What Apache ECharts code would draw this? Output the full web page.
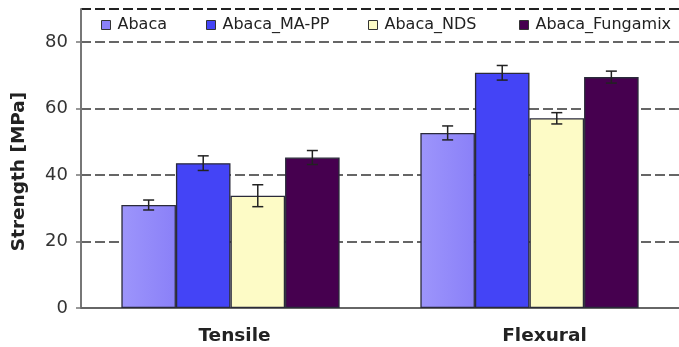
<!DOCTYPE html>
<html>
<head>
<meta charset="utf-8">
<script src="https://cdn.jsdelivr.net/npm/echarts@6/dist/echarts.min.js"></script>
<style>
  html, body { margin: 0; padding: 0; background: #fff; }
  #main { width: 679px; height: 347px; }
</style>
</head>
<body>
<div id="main"></div>
<script>
// data
const categories = ["Tensile", "Flexural"];
const seriesNames = ["Abaca", "Abaca_MA-PP", "Abaca_NDS", "Abaca_Fungamix"];
const abaca = [31.0, 52.7];
const abacaMaPp = [43.6, 70.8];
const abacaNds = [33.8, 57.1];
const abacaFungamix = [45.3, 69.5];
const abacaErr = [1.5, 2.1];
const abacaMaPpErr = [2.2, 2.2];
const abacaNdsErr = [3.3, 1.7];
const abacaFungamixErr = [2.1, 1.8];
const yTicks = [0, 20, 40, 60, 80];

const means = [abaca, abacaMaPp, abacaNds, abacaFungamix];
const errs = [abacaErr, abacaMaPpErr, abacaNdsErr, abacaFungamixErr];
const colors = [
  { type: "linear", x: 0, y: 0, x2: 1, y2: 0,
    colorStops: [{ offset: 0, color: "#9d95fb" }, { offset: 1, color: "#8a80f8" }] },
  "#4444f6",
  "#fdfbc6",
  "#46004f"
];
const legendColors = ["#8b80f9", "#4444f6", "#fdfbc6", "#46004f"];
const legendLeft = [101, 206, 368, 519];
const catGap = 0.27;
const font = "DejaVu Sans";

let chart = echarts.init(document.getElementById("main"));

const barSeries = seriesNames.map((name, i) => {
  return {
    name: name,
    type: "bar",
    data: means[i],
    barGap: "0%",
    barCategoryGap: catGap * 100 + "%",
    itemStyle: { color: colors[i], borderColor: "#2a2a3a", borderWidth: 1.3 },
    z: 2
  };
});

const errSeries = seriesNames.map((name, i) => {
  return {
    name: name + "_err",
    type: "custom",
    z: 5,
    data: categories.map((c, k) => [k, means[i][k] - errs[i][k], means[i][k] + errs[i][k]]),
    renderItem: function (params, api) {
      const k = api.value(0);
      const lo = api.coord([k, api.value(1)]);
      const hi = api.coord([k, api.value(2)]);
      const band = api.size([1, 0])[0];
      const bw = band * (1 - catGap) / 4;
      const cx = lo[0] + (i - 1.5) * bw;
      const cap = 5.5;
      const style = { stroke: "#222", lineWidth: 1.5 };
      return {
        type: "group",
        children: [
          { type: "line", shape: { x1: cx, y1: lo[1], x2: cx, y2: hi[1] }, style: style },
          { type: "line", shape: { x1: cx - cap, y1: lo[1], x2: cx + cap, y2: lo[1] }, style: style },
          { type: "line", shape: { x1: cx - cap, y1: hi[1], x2: cx + cap, y2: hi[1] }, style: style }
        ]
      };
    }
  };
});

// one legend per item so each sits where it does in the picture
const legends = seriesNames.map((n, i) => ({
  data: [{ name: n, itemStyle: { color: legendColors[i], borderColor: "#333", borderWidth: 1 } }],
  top: 17,
  left: legendLeft[i],
  padding: 0,
  icon: "rect",
  itemWidth: 9,
  itemHeight: 9,
  textStyle: { fontSize: 16, color: "#222", fontFamily: font, padding: [0, 0, 0, 2] }
}));

chart.setOption({
  animation: false,
  textStyle: { fontFamily: font },
  grid: { left: 81, top: 9, width: 602, bottom: 39, containLabel: false },
  legend: legends,
  xAxis: {
    type: "category",
    data: categories,
    axisTick: { show: false },
    axisLine: { lineStyle: { color: "#666", width: 2 } },
    axisLabel: {
      margin: 19,
      formatter: (v) => (v === "Tensile" ? "{t|" + v + "}" : "{f|" + v + "}"),
      rich: {
        t: { fontSize: 18.5, fontWeight: "bold", color: "#222", padding: [0, 0, 0, 8] },
        f: { fontSize: 18.5, fontWeight: "bold", color: "#222", padding: [0, 0, 0, 30] }
      }
    }
  },
  yAxis: {
    type: "value",
    min: 0,
    max: 90,
    interval: 20,
    name: "Strength [MPa]",
    nameLocation: "middle",
    nameGap: 52,
    nameTextStyle: { fontSize: 18.5, fontWeight: "bold", color: "#222", fontFamily: font, padding: [0, 26, 0, 0] },
    axisLine: { show: true, lineStyle: { color: "#777", width: 2 } },
    axisTick: { show: true, length: 5, lineStyle: { color: "#777", width: 1.5 } },
    axisLabel: { fontSize: 18, color: "#333", margin: 13, showMaxLabel: false,
      formatter: (v) => (yTicks.indexOf(v) >= 0 ? String(v) : "") },
    splitLine: {
      show: true,
      lineStyle: {
        color: ["#ffffff00", "#666", "#666", "#666", "#666", "#222"],
        width: 2,
        type: [10, 4]
      }
    }
  },
  series: barSeries.concat(errSeries)
});
</script>
</body>
</html>
